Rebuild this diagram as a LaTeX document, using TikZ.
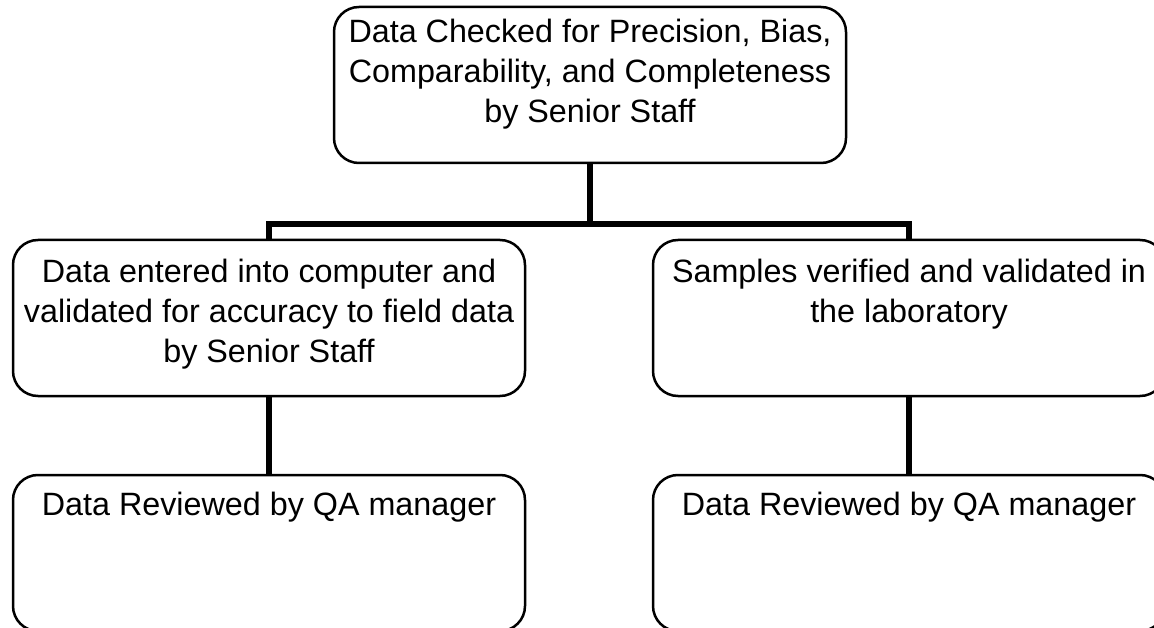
\documentclass[tikz,border=0pt]{standalone}
\usepackage{fontspec}
\setmainfont{Liberation Sans}
\newcommand{\boxtxt}[2]{\begin{minipage}[t][156pt][t]{512pt}\fontsize{32.3pt}{40pt}\selectfont\centering\rule{0pt}{#1}#2\end{minipage}}
\tikzset{
  box/.style={draw=black, line width=2.5pt, rounded corners=25pt, inner sep=0pt, fill=white},
  conn/.style={draw=black, line width=5.5pt}
}
\begin{document}
\begin{tikzpicture}[x=1pt,y=-1pt]
\useasboundingbox (0,0) rectangle (1154,628);
\clip (0,0) rectangle (1154,628);
\fill[white] (0,0) rectangle (1154,628);
\node[box] (top) at (590,85) {\boxtxt{36pt}{Data Checked for Precision, Bias,\\ Comparability, and Completeness\\ by Senior Staff}};
\node[box] (ml) at (269,318) {\boxtxt{43pt}{Data entered into computer and\\ validated for accuracy to field data\\ by Senior Staff}};
\node[box] (mr) at (909,318) {\boxtxt{43pt}{Samples verified and validated in\\ the laboratory}};
\node[box] (bl) at (269,553) {\boxtxt{40pt}{Data Reviewed by QA manager}};
\node[box] (br) at (909,553) {\boxtxt{40pt}{Data Reviewed by QA manager}};
\coordinate (bar) at (590,224);
\draw[conn] (top.south) -- (bar) -| (ml.north);
\draw[conn] (bar) -| (mr.north);
\draw[conn] (ml.south) -- (bl.north);
\draw[conn] (mr.south) -- (br.north);
\end{tikzpicture}
\end{document}
